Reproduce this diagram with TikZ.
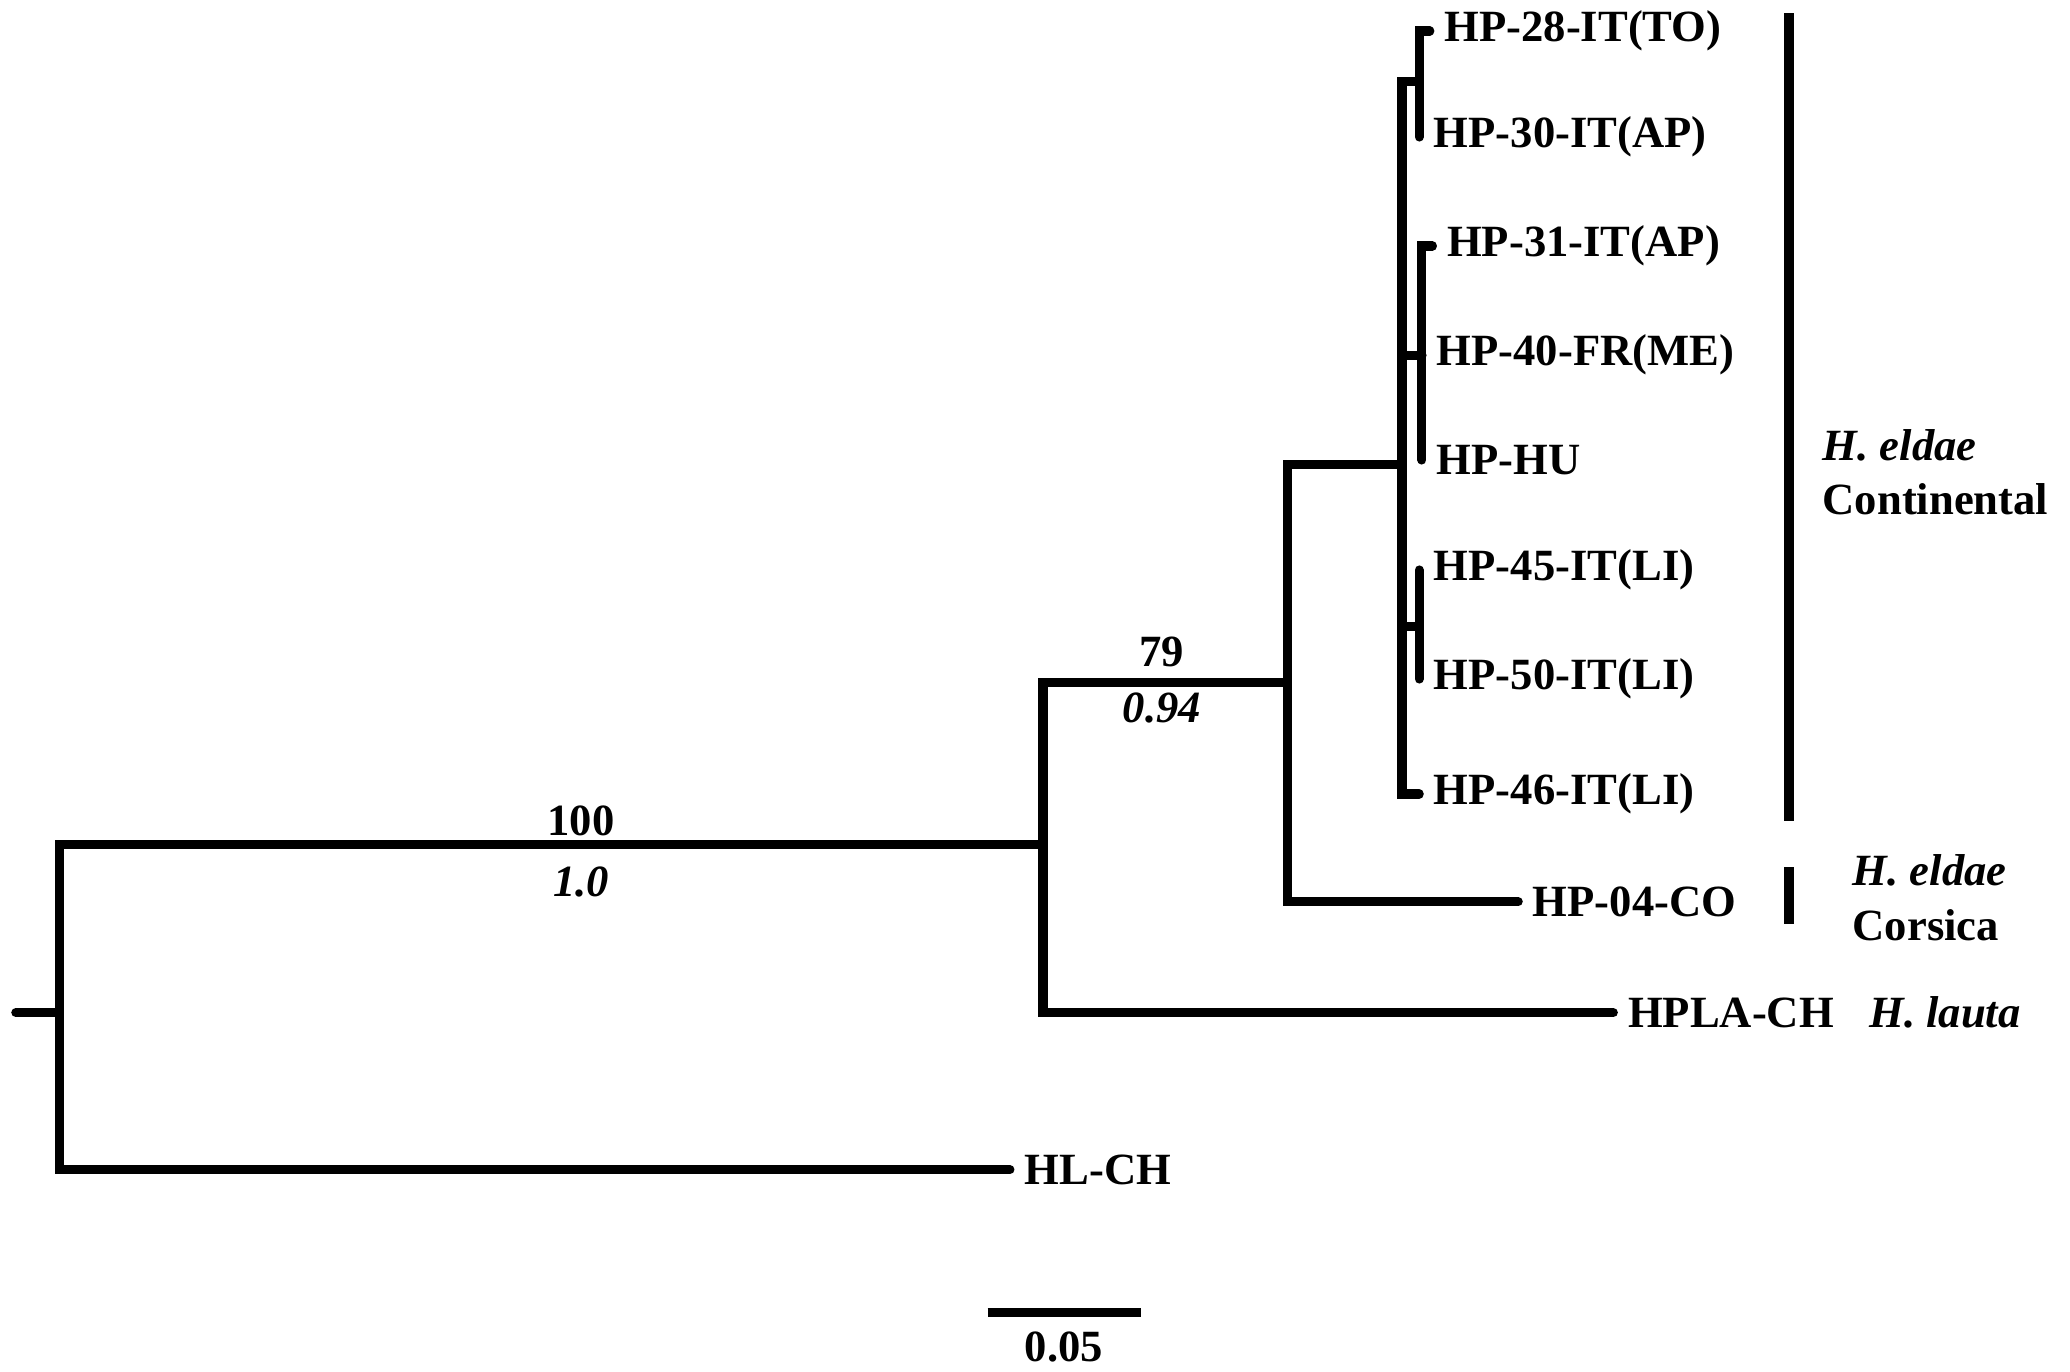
\documentclass[tikz,border=0pt]{standalone}
\usepackage{fontspec}
\setmainfont{Liberation Serif}
\usetikzlibrary{positioning}
\tikzset{
  branch/.style={line width=2.6pt, line cap=round},
  cladebar/.style={line width=3pt},
  leaf/.style={anchor=west, inner xsep=4pt, inner ysep=0pt, font=\bfseries\fontsize{12.7}{15}\selectfont},
  support/.style={inner sep=0pt, font=\bfseries\fontsize{12.7}{15}\selectfont},
  posterior/.style={inner sep=0pt, font=\bfseries\itshape\fontsize{12.7}{15}\selectfont},
  cladelabel/.style={anchor=west, align=left, inner sep=0pt, font=\bfseries\fontsize{12.7}{15.5}\selectfont},
}
\begin{document}
\begin{tikzpicture}
  \useasboundingbox (0,0) rectangle (20.7,-13.72);
  % internal nodes
  \coordinate (base) at (0.158,-10.126);
  \coordinate (root) at (0.594,-10.126);
  \coordinate (n1) at (10.430,-8.449);
  \coordinate (n2) at (12.872,-6.825);
  \coordinate (n3) at (14.020,-4.647);
  \coordinate (c1) at (14.192,-0.819);
  \coordinate (c2) at (14.219,-3.551);
  \coordinate (c3) at (14.192,-6.262);

  % tips and their labels
  \node[leaf] (hp28) at (14.298,-0.31) {HP-28-IT(TO)};
  \node[leaf] (hp30) at (14.192,-1.37) {HP-30-IT(AP)};
  \node[leaf] (hp31) at (14.324,-2.46) {HP-31-IT(AP)};
  \node[leaf] (hp40) at (14.219,-3.551) {HP-40-FR(ME)};
  \node[leaf] (hphu) at (14.219,-4.60) {HP-HU};
  \node[leaf] (hp45) at (14.192,-5.70) {HP-45-IT(LI)};
  \node[leaf] (hp50) at (14.192,-6.79) {HP-50-IT(LI)};
  \node[leaf] (hp46) at (14.192,-7.94) {HP-46-IT(LI)};
  \node[leaf] (hp04) at (15.182,-9.017) {HP-04-CO};
  \node[leaf] (hpla) at (16.133,-10.126) {HPLA-CH};
  \node[leaf] (hlch) at (10.099,-11.697) {HL-CH};

  % branches
  \draw[branch] (base) -- (root);
  \draw[branch] (root) |- (n1);
  \draw[branch] (root) |- (hlch.west);
  \draw[branch] (n1) |- (n2);
  \draw[branch] (n1) |- (hpla.west);
  \draw[branch] (n2) |- (n3);
  \draw[branch] (n2) |- (hp04.west);
  \draw[branch] (n3) |- (c1);
  \draw[branch] (n3) |- (c2);
  \draw[branch] (n3) |- (c3);
  \draw[branch] (n3) |- (hp46.west);
  \draw[branch] (c1) |- (hp28.west);
  \draw[branch] (c1) |- (hp30.west);
  \draw[branch] (c2) |- (hp31.west);
  \draw[branch] (c2) |- (hp40.west);
  \draw[branch] (c2) |- (hphu.west);
  \draw[branch] (c3) |- (hp45.west);
  \draw[branch] (c3) |- (hp50.west);

  % support values
  \node[support] (bs1) at (5.809,-8.212) {100};
  \node[posterior] (pp1) at (5.809,-8.819) {1.0};
  \node[support] (bs2) at (11.618,-6.522) {79};
  \node[posterior] (pp2) at (11.618,-7.076) {0.94};

  % clades
  \coordinate (cont1) at (17.89,-0.132);
  \coordinate (cont2) at (17.89,-8.212);
  \coordinate (cors1) at (17.89,-8.674);
  \coordinate (cors2) at (17.89,-9.241);
  \draw[cladebar] (cont1) -- (cont2);
  \draw[cladebar] (cors1) -- (cors2);
  \node[cladelabel] (cont) at (18.22,-4.72) {\textit{H. eldae}\\Continental};
  \node[cladelabel] (cors) at (18.52,-8.977) {\textit{H. eldae}\\Corsica};
  \node[cladelabel, right=0.2cm of hpla] (lauta) {\textit{H. lauta}};

  % scale bar
  \coordinate (sb1) at (9.875,-13.123);
  \coordinate (sb2) at (11.406,-13.123);
  \draw[branch, line cap=butt] (sb1) -- (sb2);
  \node[support] (sbl) at (10.64,-13.466) {0.05};
\end{tikzpicture}
\end{document}
